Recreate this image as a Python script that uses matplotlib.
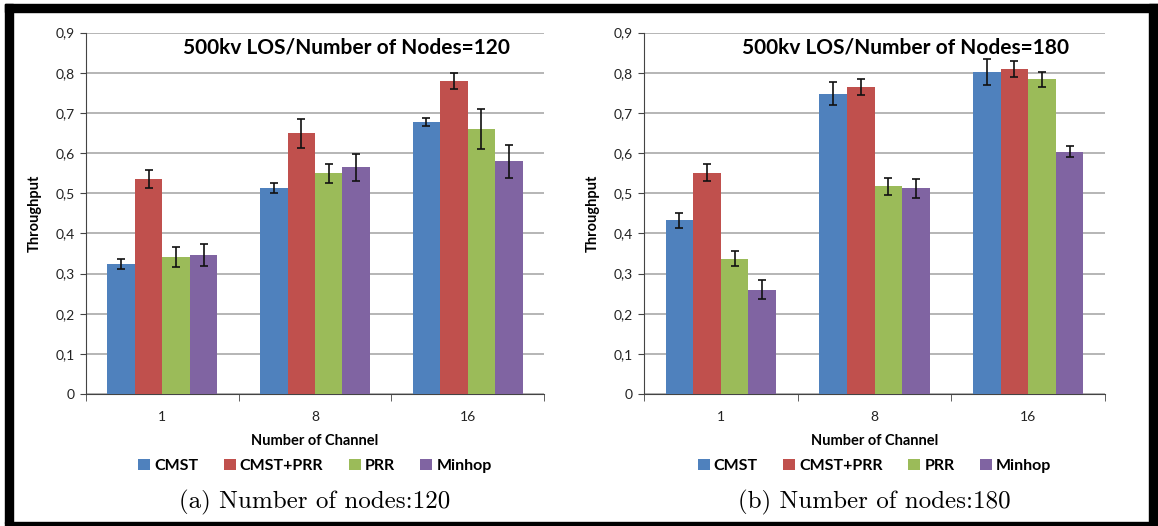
import matplotlib
matplotlib.use("Agg")
import matplotlib.pyplot as plt
import numpy as np
from matplotlib.patches import Rectangle

channels = ["1", "8", "16"]
methods = ["CMST", "CMST+PRR", "PRR", "Minhop"]
colors = ["#4F81BD", "#C0504D", "#9BBB59", "#8064A2"]

# throughput per method, one entry per channel count
tp_120 = {
    "CMST":     [0.324, 0.513, 0.677],
    "CMST+PRR": [0.536, 0.649, 0.780],
    "PRR":      [0.342, 0.549, 0.660],
    "Minhop":   [0.346, 0.564, 0.579],
}
err_120 = {
    "CMST":     [0.013, 0.012, 0.011],
    "CMST+PRR": [0.022, 0.036, 0.020],
    "PRR":      [0.025, 0.024, 0.050],
    "Minhop":   [0.027, 0.033, 0.040],
}
tp_180 = {
    "CMST":     [0.432, 0.748, 0.801],
    "CMST+PRR": [0.551, 0.765, 0.808],
    "PRR":      [0.337, 0.517, 0.783],
    "Minhop":   [0.260, 0.512, 0.603],
}
err_180 = {
    "CMST":     [0.019, 0.028, 0.032],
    "CMST+PRR": [0.021, 0.020, 0.020],
    "PRR":      [0.019, 0.021, 0.019],
    "Minhop":   [0.023, 0.024, 0.014],
}

yticks = [0, 0.1, 0.2, 0.3, 0.4, 0.5, 0.6, 0.7, 0.8, 0.9]
ytick_labels = ["0", "0,1", "0,2", "0,3", "0,4", "0,5", "0,6", "0,7", "0,8", "0,9"]

plt.rcParams["font.family"] = ["Lato", "DejaVu Sans"]

fig = plt.figure(figsize=(11.58, 5.26), dpi=100)
W, H = 1158, 526


def draw_panel(rect, values, errors, title, caption):
    ax = fig.add_axes(rect)
    x = np.arange(len(channels))
    bw = 0.18
    for i, m in enumerate(methods):
        pos = x + (i - 1.5) * bw
        ax.bar(pos, values[m], bw, color=colors[i], edgecolor="none", zorder=3, label=m)
        ax.errorbar(pos, values[m], yerr=errors[m], fmt="none", ecolor="#111111",
                    elinewidth=1.2, capsize=3, capthick=1.2, zorder=4)
    ax.set_xlim(-0.5, len(channels) - 0.5)
    ax.set_ylim(0, 0.9)
    ax.set_yticks(yticks)
    ax.set_yticklabels(ytick_labels, fontsize=10, color="#222222")
    ax.set_xticks(x)
    ax.set_xticklabels(channels, fontsize=10, color="#222222")
    ax.tick_params(axis="x", length=0, pad=12)
    # category separators on the bottom axis
    ax.set_xticks(np.arange(-0.5, len(channels)), minor=True)
    ax.tick_params(axis="x", which="minor", length=5, direction="out", color="#444444")
    ax.tick_params(axis="y", length=4, direction="out", color="#444444", pad=4)
    ax.yaxis.grid(True, color="#b5b5b5", linewidth=1.4, zorder=0)
    ax.set_axisbelow(True)
    for s in ["top", "right"]:
        ax.spines[s].set_visible(False)
    ax.spines["left"].set_color("#444444")
    ax.spines["bottom"].set_color("#444444")
    ax.set_ylabel("Throughput", fontsize=10.5, fontweight="bold", labelpad=10)
    ax.set_xlabel("Number of Channel", fontsize=10.5, fontweight="bold", labelpad=8)
    ax.text(0.568, 0.985, title, transform=ax.transAxes, ha="center", va="top",
            fontsize=15, fontweight="bold")
    ax.legend(loc="center", bbox_to_anchor=(0.5, -72 / 361.5), ncol=4, frameon=False,
              prop={"weight": "bold", "size": 11.5}, handlelength=0.75, handleheight=0.75,
              handletextpad=0.25, columnspacing=1.6)
    cx = rect[0] + rect[2] / 2
    fig.text(cx, 1 - 502 / H, caption, ha="center", va="center",
             fontsize=18, family="cmr10")
    return ax


draw_panel([86 / W, 1 - 394 / H, 458 / W, 361.5 / H], tp_120, err_120,
           "500kv LOS/Number of Nodes=120", "(a) Number of nodes:120")
draw_panel([644 / W, 1 - 394 / H, 461 / W, 361.5 / H], tp_180, err_180,
           "500kv LOS/Number of Nodes=180", "(b) Number of nodes:180")

# black border around both panels
for (x0, y0, w, h) in [(5, 4, 8, 519), (5, 4, 1153, 8), (1149, 4, 9, 519), (5, 522, 1153, 4)]:
    fig.patches.append(Rectangle((x0 / W, 1 - (y0 + h) / H), w / W, h / H,
                                 transform=fig.transFigure, color="black", zorder=10))

fig.savefig("out.png", dpi=100)
